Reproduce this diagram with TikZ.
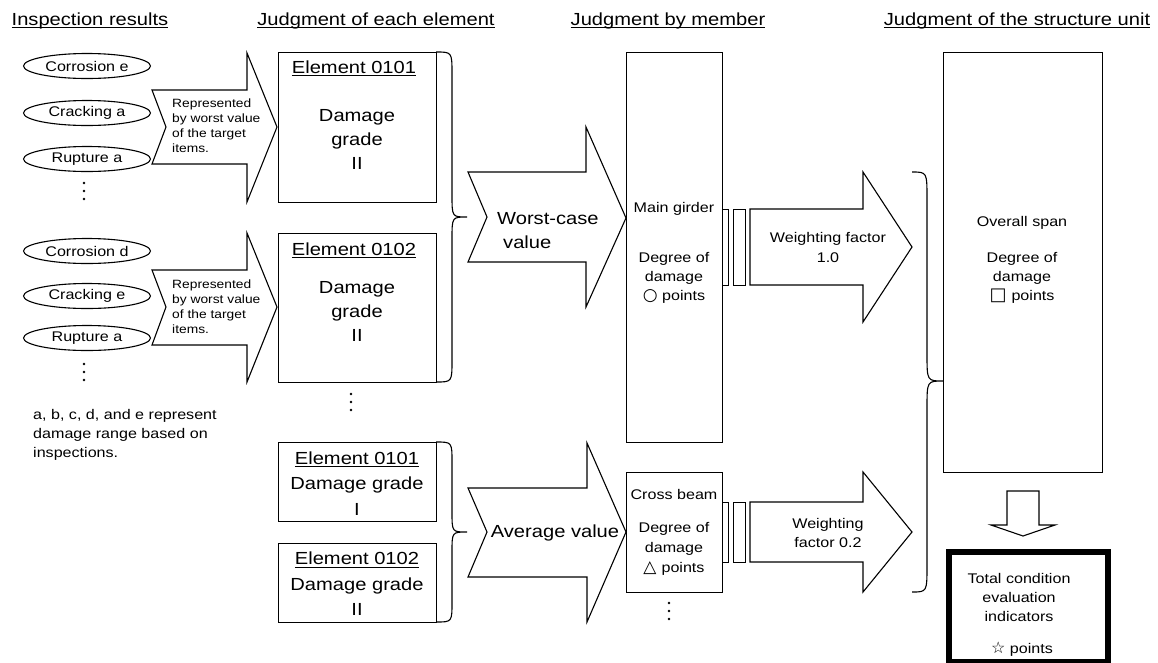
\documentclass[tikz,border=0pt]{standalone}
\usepackage{fontspec}
\setmainfont{Liberation Sans}[FakeStretch=1.15]
\newfontfamily\symf{DejaVu Sans}
\usetikzlibrary{shapes.geometric}
\newcommand\ulbox[1]{\setbox0=\hbox{#1}\rlap{\rule[-2.8pt]{\wd0}{1.1pt}}\box0}
\newcommand\BraceR[7]{\draw[ln] (#1,#2) .. controls (#4,#2) .. (#4,#2+#7) -- (#4,#6-#7) .. controls (#4,#6) .. (#5,#6) .. controls (#4,#6) .. (#4,#6+#7) -- (#4,#3-#7) .. controls (#4,#3) .. (#1,#3);}
\newcommand\dotsat[2]{\foreach \dy in {0,8,16} {\fill (#1,#2+\dy) circle (1.4pt);}}
\newcommand\sym[2]{{\symf\fontsize{#1}{#1}\selectfont #2}}
\tikzset{
  ln/.style={line width=1.1pt},
  bx/.style={draw, line width=1.1pt, fill=white, anchor=north west, inner sep=0pt},
  blk/.style={draw, line width=1.1pt, fill=white, line join=miter},
  tt/.style={font=\fontsize{17.5}{24}\selectfont, inner sep=0pt, align=center},
  tm/.style={font=\fontsize{14}{19}\selectfont, inner sep=0pt, align=center},
  ts/.style={font=\fontsize{12}{15}\selectfont, inner sep=0pt, align=left},
  ell/.style={draw, ellipse, line width=1.1pt, minimum width=127pt, minimum height=25pt, inner sep=0pt, font=\fontsize{14}{17}\selectfont},
}
\begin{document}
\begin{tikzpicture}[x=1pt,y=-1pt]
\useasboundingbox (0,0) rectangle (1158,662);
% titles
\node[tt, anchor=base] (h1) at (90,25) {\ulbox{Inspection results}};
\node[tt, anchor=base] (h2) at (376,25) {\ulbox{Judgment of each element}};
\node[tt, anchor=base] (h3) at (668,25) {\ulbox{Judgment by member}};
\node[tt, anchor=base] (h4) at (1017,25) {\ulbox{Judgment of the structure unit}};
% inspection ellipses
\node[ell] (i1) at (87,66) {Corrosion e};
\node[ell] (i2) at (87,113) {Cracking a};
\node[ell] (i3) at (87,159) {Rupture a};
\node[ell] (i4) at (87,251) {Corrosion d};
\node[ell] (i5) at (87,296) {Cracking e};
\node[ell] (i6) at (87,338) {Rupture a};
\dotsat{84}{183}
\dotsat{84}{364}
% represented arrows
\draw[blk] (152,90) -- (247,90) -- (247,53) -- (277,127) -- (247,202) -- (247,164) -- (152,164) -- (166,127) -- cycle;
\draw[blk] (152,270) -- (247,270) -- (247,233) -- (277,307) -- (247,382) -- (247,345) -- (152,345) -- (166,307) -- cycle;
\node[ts, anchor=west] (r1) at (172,125.5) {Represented\\by worst value\\of the target\\items.};
\node[ts, anchor=west] (r2) at (172,306.5) {Represented\\by worst value\\of the target\\items.};
% footnote
\node[tm, align=left, anchor=west] (fn) at (33,435) {a, b, c, d, and e represent\\damage range based on\\inspections.};
% element boxes
\node[bx, minimum width=158pt, minimum height=150pt] (e1) at (278,52) {};
\node[bx, minimum width=158pt, minimum height=149pt] (e2) at (278,233) {};
\node[bx, minimum width=158pt, minimum height=79pt] (e3) at (278,442) {};
\node[bx, minimum width=158pt, minimum height=79pt] (e4) at (278,543) {};
\node[tt, anchor=base] (e1h) at (354,73) {\ulbox{Element 0101}};
\node[tt] (e1g) at (357,139) {Damage\\grade\\II};
\node[tt, anchor=base] (e2h) at (354,255) {\ulbox{Element 0102}};
\node[tt] (e2g) at (357,311) {Damage\\grade\\II};
\node[tt, font=\fontsize{17.5}{25.5}\selectfont] (e3t) at (357,483.5) {\ulbox{Element 0101}\\Damage grade\\I};
\node[tt, font=\fontsize{17.5}{25.5}\selectfont] (e4t) at (357,584) {\ulbox{Element 0102}\\Damage grade\\II};
\dotsat{351}{394}
% braces
\BraceR{436}{52}{382}{452}{467}{217}{22}
\BraceR{436}{442}{622}{452}{467}{532}{20}
\BraceR{912}{172}{592}{927}{943}{381}{27}
% worst-case and average arrows
\draw[blk] (468,172) -- (586,172) -- (586,127) -- (626,218) -- (586,307) -- (586,262) -- (468,262) -- (487,217) -- cycle;
\node[tt, align=left, anchor=west] (wc) at (497,230.5) {Worst-case\\\hspace*{6pt}value};
\draw[blk] (468,488) -- (587,488) -- (587,443) -- (626,532) -- (587,622) -- (587,577) -- (468,577) -- (487,532) -- cycle;
\node[tt] (av) at (555,533) {Average value};
% member boxes
\node[bx, minimum width=96pt, minimum height=390pt] (mg) at (626,52) {};
\node[bx, minimum width=96pt, minimum height=120pt] (cb) at (626,472) {};
\node[tm] (mgh) at (674,209) {Main girder};
\node[tm] (mgt) at (674,278) {Degree of\\damage\\\sym{17}{○} points};
\node[tm] (cbh) at (674,494) {Cross beam};
\node[tm, font=\fontsize{14}{20}\selectfont] (cbt) at (674,549) {Degree of\\damage\\\sym{17}{△}\hspace{5pt}points};
\dotsat{669}{603}
% small rects and weighting arrows
\node[bx, minimum width=5.5pt, minimum height=76pt] (s1) at (722,209) {};
\node[bx, minimum width=12pt, minimum height=76pt] (s2) at (733,209) {};
\node[bx, minimum width=5.5pt, minimum height=60pt] (s3) at (722,502) {};
\node[bx, minimum width=12pt, minimum height=60pt] (s4) at (733,502) {};
\draw[blk] (750,209) -- (863,209) -- (863,172) -- (912,247) -- (863,322) -- (863,285) -- (750,285) -- cycle;
\draw[blk] (750,502) -- (863,502) -- (863,472) -- (912,532) -- (863,592) -- (863,562) -- (750,562) -- cycle;
\node[tm, font=\fontsize{14}{20}\selectfont] (w1) at (828,247) {Weighting factor\\1.0};
\node[tm] (w2) at (828,532.5) {Weighting\\factor 0.2};
% structure unit
\node[bx, minimum width=159pt, minimum height=420pt] (os) at (943,52) {};
\node[tm] (osh) at (1022,223) {Overall span};
\node[tm] (ost) at (1022,278) {Degree of\\damage\\\sym{18}{□}\hspace{5pt}points};
\draw[blk] (1007,491) -- (1039,491) -- (1039,525) -- (1055,525) -- (1023,536) -- (991,525) -- (1007,525) -- cycle;
\node[draw, line width=6pt, anchor=north west, inner sep=0pt, minimum width=159pt, minimum height=110.5pt] (tot) at (946,548.5) {};
\node[tm] (tott) at (1019,597) {Total condition\\evaluation\\indicators};
\node[tm, anchor=base] (totp) at (1022,653) {\sym{16}{☆} points};
\end{tikzpicture}
\end{document}
